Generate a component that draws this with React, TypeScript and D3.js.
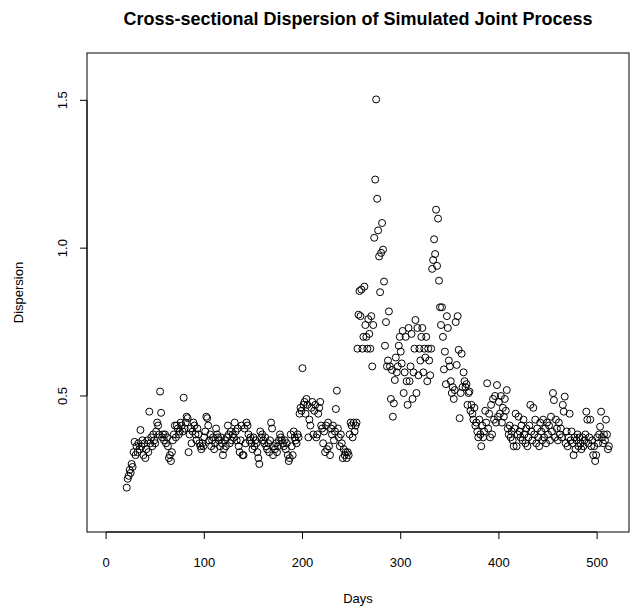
import React from "react";
import * as d3 from "d3";

const title = "Cross-sectional Dispersion of Simulated Joint Process";
const xLabel = "Days";
const yLabel = "Dispersion";
const xTicks = [0, 100, 200, 300, 400, 500];
const yTicks = [0.5, 1.0, 1.5];
const yTickLabels = ["0.5", "1.0", "1.5"];
const firstDay = 21;
const lastIndex = 512;

// days 21-120
const dispersionA = [
  0.19, 0.22, 0.23, 0.25, 0.24, 0.27, 0.26, 0.31, 0.345, 0.30,
  0.33, 0.31, 0.34, 0.32, 0.385, 0.33, 0.35, 0.30, 0.34, 0.29,
  0.32, 0.35, 0.31, 0.447, 0.34, 0.36, 0.33, 0.37, 0.35, 0.34,
  0.38, 0.41, 0.40, 0.37, 0.515, 0.443, 0.36, 0.37, 0.35, 0.37,
  0.34, 0.36, 0.33, 0.29, 0.30, 0.28, 0.31, 0.35, 0.37, 0.40,
  0.36, 0.40, 0.39, 0.37, 0.38, 0.41, 0.40, 0.38, 0.494, 0.39,
  0.41, 0.43, 0.425, 0.31, 0.37, 0.39, 0.34, 0.38, 0.41, 0.40,
  0.37, 0.35, 0.39, 0.37, 0.34, 0.33, 0.32, 0.34, 0.33, 0.36,
  0.38, 0.43, 0.425, 0.40, 0.35, 0.37, 0.33, 0.35, 0.36, 0.32,
  0.34, 0.39, 0.37, 0.36, 0.35, 0.33, 0.36, 0.34, 0.30, 0.32,
];
// days 121-220
const dispersionB = [
  0.35, 0.33, 0.36, 0.40, 0.37, 0.34, 0.38, 0.35, 0.37, 0.36,
  0.41, 0.38, 0.35, 0.39, 0.33, 0.31, 0.35, 0.40, 0.30, 0.30,
  0.39, 0.34, 0.41, 0.40, 0.37, 0.35, 0.36, 0.34, 0.32, 0.36,
  0.33, 0.35, 0.34, 0.31, 0.29, 0.27, 0.38, 0.36, 0.37, 0.35,
  0.34, 0.36, 0.33, 0.32, 0.34, 0.31, 0.35, 0.41, 0.39, 0.30,
  0.33, 0.32, 0.34, 0.31, 0.33, 0.35, 0.37, 0.36, 0.35, 0.34,
  0.33, 0.35, 0.32, 0.34, 0.30, 0.28, 0.29, 0.37, 0.33, 0.30,
  0.38, 0.36, 0.35, 0.34, 0.37, 0.36, 0.44, 0.46, 0.45, 0.594,
  0.47, 0.48, 0.44, 0.49, 0.47, 0.36, 0.42, 0.40, 0.46, 0.48,
  0.37, 0.45, 0.47, 0.36, 0.37, 0.44, 0.46, 0.48, 0.40, 0.39,
];
// days 221-320
const dispersionC = [
  0.34, 0.38, 0.31, 0.40, 0.32, 0.41, 0.33, 0.30, 0.39, 0.37,
  0.40, 0.35, 0.38, 0.456, 0.518, 0.39, 0.36, 0.33, 0.37, 0.34,
  0.29, 0.32, 0.30, 0.31, 0.29, 0.31, 0.30, 0.37, 0.41, 0.40,
  0.36, 0.41, 0.38, 0.40, 0.41, 0.66, 0.775, 0.855, 0.77, 0.86,
  0.66, 0.70, 0.87, 0.74, 0.70, 0.66, 0.76, 0.71, 0.66, 0.77,
  0.60, 0.74, 1.035, 1.232, 1.503, 1.167, 1.06, 0.972, 0.851, 0.984,
  1.085, 0.995, 0.887, 0.67, 0.75, 0.60, 0.62, 0.786, 0.60, 0.49,
  0.588, 0.43, 0.475, 0.554, 0.63, 0.58, 0.60, 0.67, 0.70, 0.65,
  0.61, 0.72, 0.51, 0.58, 0.70, 0.55, 0.47, 0.73, 0.55, 0.60,
  0.71, 0.49, 0.58, 0.66, 0.757, 0.51, 0.73, 0.57, 0.66, 0.62,
];
// days 321-420
const dispersionD = [
  0.70, 0.73, 0.58, 0.66, 0.63, 0.70, 0.55, 0.66, 0.62, 0.57,
  0.66, 0.93, 0.96, 1.03, 0.98, 1.13, 0.94, 1.10, 0.89, 0.80,
  0.74, 0.80, 0.70, 0.59, 0.65, 0.54, 0.77, 0.73, 0.62, 0.60,
  0.55, 0.51, 0.53, 0.49, 0.52, 0.75, 0.605, 0.77, 0.656, 0.425,
  0.51, 0.643, 0.53, 0.58, 0.55, 0.53, 0.54, 0.47, 0.51, 0.515,
  0.45, 0.47, 0.44, 0.42, 0.46, 0.40, 0.41, 0.38, 0.36, 0.42,
  0.37, 0.33, 0.40, 0.36, 0.38, 0.45, 0.41, 0.543, 0.39, 0.44,
  0.36, 0.47, 0.37, 0.49, 0.42, 0.50, 0.41, 0.537, 0.43, 0.48,
  0.44, 0.50, 0.41, 0.46, 0.43, 0.49, 0.45, 0.52, 0.39, 0.37,
  0.40, 0.36, 0.38, 0.35, 0.33, 0.39, 0.44, 0.33, 0.37, 0.43,
];
// days 421-512
const dispersionE = [
  0.38, 0.36, 0.40, 0.35, 0.42, 0.37, 0.34, 0.39, 0.33, 0.36,
  0.40, 0.47, 0.38, 0.35, 0.46, 0.37, 0.42, 0.34, 0.39, 0.36,
  0.33, 0.41, 0.38, 0.35, 0.42, 0.36, 0.39, 0.34, 0.41, 0.37,
  0.40, 0.35, 0.43, 0.38, 0.51, 0.486, 0.36, 0.42, 0.39, 0.35,
  0.41, 0.37, 0.39, 0.36, 0.47, 0.447, 0.498, 0.34, 0.38, 0.33,
  0.36, 0.44, 0.35, 0.38, 0.34, 0.30, 0.36, 0.32, 0.35, 0.37,
  0.33, 0.36, 0.34, 0.32, 0.36, 0.33, 0.35, 0.37, 0.447, 0.42,
  0.34, 0.36, 0.42, 0.33, 0.35, 0.30, 0.33, 0.28, 0.30, 0.36,
  0.34, 0.37, 0.396, 0.447, 0.36, 0.34, 0.37, 0.35, 0.42, 0.37,
  0.32, 0.33,
];

const values = [...dispersionA, ...dispersionB, ...dispersionC, ...dispersionD, ...dispersionE];
const points = values.map((v, i) => ({ day: firstDay + i, value: v }));

const W = 632;
const H = 611;
const left = 87;
const right = 629;
const top = 53;
const bottom = 532;
const font = "'Liberation Sans', Arial, Helvetica, sans-serif";

export default function App() {
  const xPad = (lastIndex - 1) * 0.04;
  const x = d3.scaleLinear().domain([1 - xPad, lastIndex + xPad]).range([left, right]);
  const yMin = 0.1, yMax = 1.6;
  const yPad = (yMax - yMin) * 0.04;
  const y = d3.scaleLinear().domain([yMin - yPad, yMax + yPad]).range([bottom, top]);
  const cx = (left + right) / 2;
  const cy = (top + bottom) / 2;

  return (
    <svg
      width={W}
      height={H}
      style={{ position: "absolute", left: 0, top: 0, display: "block", background: "#fff" }}
    >
      <rect x={0} y={0} width={W} height={H} fill="#fff" />
      <text x={cx} y={25} textAnchor="middle" fontFamily={font} fontWeight="bold" fontSize={18}>
        {title}
      </text>
      <rect x={left} y={top} width={right - left} height={bottom - top} fill="none" stroke="#000" strokeWidth={1} />
      {/* x axis */}
      <line x1={x(xTicks[0])} x2={x(xTicks[xTicks.length - 1])} y1={bottom} y2={bottom} stroke="#000" />
      {xTicks.map((t) => (
        <g key={"xt" + t}>
          <line x1={x(t)} x2={x(t)} y1={bottom} y2={bottom + 7} stroke="#000" />
          <text x={x(t)} y={bottom + 35} textAnchor="middle" fontFamily={font} fontSize={13}>
            {t}
          </text>
        </g>
      ))}
      {/* y axis */}
      <line x1={left} x2={left} y1={y(yTicks[0])} y2={y(yTicks[yTicks.length - 1])} stroke="#000" />
      {yTicks.map((t, i) => (
        <g key={"yt" + t}>
          <line x1={left} x2={left - 7} y1={y(t)} y2={y(t)} stroke="#000" />
          <text
            transform={`translate(${left - 20},${y(t)}) rotate(-90)`}
            textAnchor="middle"
            fontFamily={font}
            fontSize={13}
          >
            {yTickLabels[i]}
          </text>
        </g>
      ))}
      <text x={cx} y={603} textAnchor="middle" fontFamily={font} fontSize={13}>
        {xLabel}
      </text>
      <text transform={`translate(23,${cy}) rotate(-90)`} textAnchor="middle" fontFamily={font} fontSize={13}>
        {yLabel}
      </text>
      {points.map((p) => (
        <circle
          key={p.day}
          cx={x(p.day)}
          cy={y(p.value)}
          r={3.5}
          fill="none"
          stroke="#000"
          strokeWidth={1}
        />
      ))}
    </svg>
  );
}
